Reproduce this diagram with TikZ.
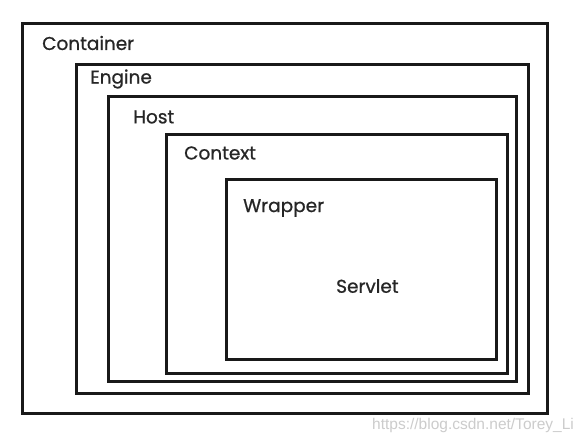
\documentclass[tikz,border=0pt]{standalone}
\usepackage{fontspec}
\setmainfont{Poppins}
\newfontfamily\lblfont{Poppins}[FakeBold=0.8]
\newfontfamily\wmfont{Liberation Sans}
\begin{document}
\begin{tikzpicture}[x=1pt,y=-1pt,
  box/.style={draw=black!90,line width=3pt},
  lbl/.style={anchor=west,inner sep=0pt,text=black!85,font=\lblfont\fontsize{18.5}{22}\selectfont},
  wm/.style={anchor=west,inner sep=0pt,text=black!20,font=\wmfont\fontsize{15.5}{18}\selectfont}]
\useasboundingbox[fill=white] (0,0) rectangle (587,442);
\draw[box] (22,23) rectangle (547,413);
\draw[box] (76,64) rectangle (528,393);
\draw[box] (108,96) rectangle (516,381);
\draw[box] (166,134) rectangle (507,373);
\draw[box] (226,179) rectangle (496,359);
\node[lbl] (container) at (42,43) {Container};
\node[lbl] (engine) at (90,79) {Engine};
\node[lbl] (host) at (133,117) {Host};
\node[lbl] (context) at (184,153) {Context};
\node[lbl] (wrapper) at (243,208) {Wrapper};
\node[lbl] (servlet) at (336,286) {Servlet};
\node[wm] (mark) at (372,425) {https://blog.csdn.net/Torey\_Li};
\end{tikzpicture}
\end{document}
